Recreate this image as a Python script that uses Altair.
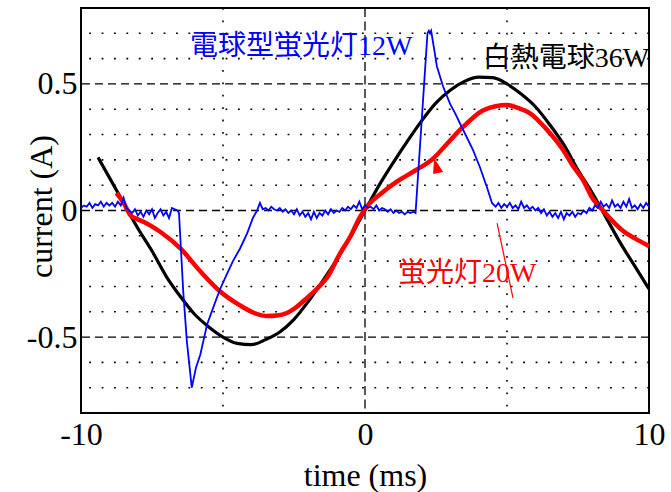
import altair as alt
import pandas as pd

# ---------------- data ----------------
black_t = [-9.4, -9.0, -8.5, -8.0, -7.5, -7.0, -6.5, -6.0, -5.5, -5.0, -4.5, -4.0, -3.5,
           -3.0, -2.5, -2.0, -1.5, -1.0, -0.5, 0.0, 0.5, 1.0, 1.5, 2.0, 2.5, 3.0, 3.5,
           4.0, 4.5, 5.0, 5.5, 6.0, 6.5, 7.0, 7.5, 8.0, 8.5, 9.0, 9.5, 10.0]
black_i = [0.21, 0.13, 0.03, -0.07, -0.16, -0.26, -0.34, -0.41, -0.46, -0.50, -0.525, -0.53, -0.51,
           -0.48, -0.43, -0.36, -0.28, -0.195, -0.10, 0.0, 0.10, 0.19, 0.275, 0.355, 0.425, 0.475, 0.51,
           0.527, 0.525, 0.50, 0.46, 0.41, 0.34, 0.26, 0.16, 0.07, -0.03, -0.13, -0.22, -0.31]

red_t = [-8.75, -8.5, -8.25, -8.0, -7.7, -7.2, -6.5, -5.8, -5.1, -4.4, -3.9, -3.45, -3.1,
         -2.75, -2.4, -2.04, -1.7, -1.34, -0.88, -0.5, -0.2, 0.1, 0.6, 1.13, 1.8, 2.4, 2.9,
         3.45, 4.15, 4.6, 5.0, 5.4, 5.8, 6.4, 6.97, 7.3, 7.68, 8.0, 8.38, 8.7, 9.08, 9.5, 10.0]
red_i = [0.07, 0.03, -0.02, -0.035, -0.05, -0.085, -0.15, -0.24, -0.32, -0.375, -0.405, -0.417, -0.415,
         -0.405, -0.38, -0.345, -0.31, -0.266, -0.17, -0.10, -0.03, 0.02, 0.07, 0.115, 0.16, 0.205, 0.265,
         0.33, 0.395, 0.412, 0.417, 0.405, 0.385, 0.32, 0.24, 0.18, 0.12, 0.05, 0.0, -0.04, -0.08, -0.11, -0.14]

blue_t = [-10.0, -9.9, -9.8, -9.7, -9.6, -9.5, -9.4, -9.3, -9.2, -9.1, -9.0, -8.9, -8.8, -8.7,
          -8.6, -8.5, -8.4, -8.3, -8.2, -8.1, -8.0, -7.9, -7.8, -7.7, -7.6, -7.5, -7.4, -7.3,
          -7.2, -7.1, -7.0, -6.9, -6.8, -6.7, -6.6,
          -6.55, -6.4, -6.27, -6.1, -5.95, -5.8, -5.56, -5.3, -5.1, -4.9, -4.65, -4.4, -4.15, -3.95, -3.8,
          -3.7, -3.6, -3.5, -3.4, -3.3, -3.2, -3.1, -3.0, -2.9, -2.8, -2.7, -2.6, -2.5, -2.4,
          -2.3, -2.2, -2.1, -2.0, -1.9, -1.8, -1.7, -1.6, -1.5, -1.4, -1.3, -1.2, -1.1, -1.0,
          -0.9, -0.8, -0.7, -0.6, -0.5, -0.4, -0.3, -0.2, -0.1, 0.0, 0.1, 0.2, 0.3, 0.4,
          0.5, 0.6, 0.7, 0.8, 0.9, 1.0, 1.1, 1.2, 1.3, 1.4, 1.5, 1.6, 1.7,
          1.78, 2.2, 2.25, 2.29, 2.33, 2.46, 2.53, 2.75, 3.0, 3.17, 3.45, 3.8, 4.05, 4.3, 4.47,
          4.6, 4.7, 4.8, 4.9, 5.0, 5.1, 5.2, 5.3, 5.4, 5.5, 5.6, 5.7, 5.8, 5.9, 6.0, 6.1,
          6.2, 6.3, 6.4, 6.5, 6.6, 6.7, 6.8, 6.9, 7.0, 7.1, 7.2, 7.3, 7.4, 7.5, 7.6, 7.7,
          7.8, 7.9, 8.0, 8.1, 8.2, 8.3, 8.4, 8.5, 8.6, 8.7, 8.8, 8.9, 9.0, 9.1, 9.2, 9.3,
          9.4, 9.5, 9.6, 9.7, 9.8, 9.9, 10.0]
blue_i = [0.01, 0.02, 0.015, 0.03, 0.01, 0.025, 0.02, 0.035, 0.015, 0.03, 0.02, 0.03, 0.015, 0.035,
          0.02, 0.05, 0.01, 0.0, -0.01, 0.005, -0.02, -0.005, -0.025, 0.0, -0.015, 0.005, -0.03, -0.01,
          0.005, -0.02, -0.005, -0.03, 0.01, 0.005, 0.0,
          -0.01, -0.32, -0.52, -0.70, -0.62, -0.57, -0.45, -0.37, -0.31, -0.26, -0.20, -0.15, -0.09, -0.03, 0.0,
          0.03, 0.005, 0.01, 0.0, 0.015, 0.005, 0.0, 0.01, -0.005, 0.005, -0.01, 0.0, -0.015, 0.005,
          -0.02, -0.005, -0.025, -0.01, -0.035, -0.005, -0.03, -0.01, -0.02, 0.0, -0.015, 0.005, -0.01, 0.0,
          -0.005, 0.01, 0.0, 0.015, 0.005, 0.02, 0.01, 0.035, 0.005, 0.02, 0.01, 0.015, 0.005, 0.02,
          0.0, 0.01, 0.005, -0.005, 0.005, -0.01, 0.0, -0.01, -0.005, -0.015, -0.005, -0.01, -0.005,
          -0.01, 0.70, 0.71, 0.70, 0.71, 0.62, 0.57, 0.49, 0.42, 0.385, 0.32, 0.24, 0.17, 0.09, 0.03,
          0.015, 0.03, 0.01, 0.025, 0.015, 0.03, 0.01, 0.02, 0.005, 0.035, 0.01, 0.02, 0.005, 0.015, 0.0, 0.01,
          -0.01, 0.005, -0.02, -0.005, -0.025, -0.01, -0.03, -0.005, -0.035, -0.01, -0.02, -0.005, -0.025, -0.01, -0.015, 0.0,
          -0.01, 0.01, 0.0, 0.02, 0.01, 0.035, 0.015, 0.025, 0.01, 0.04, 0.015, 0.025, 0.01, 0.035, 0.015, 0.045,
          0.01, 0.02, 0.005, 0.025, 0.01, 0.03, 0.015]

x_ticks = [-10, 0, 10]
y_ticks = [-0.5, 0, 0.5]
h_dashed = [-0.5, 0.0, 0.5]
h_dotted = [-0.7, -0.6, -0.4, -0.3, -0.2, -0.1, 0.1, 0.2, 0.3, 0.4, 0.6, 0.7]
v_dashed = [0.0]
v_dotted = [-5.0, 5.0]

label_text = ["電球型蛍光灯12W", "白熱電球36W", "蛍光灯20W"]
label_series = ["cfl12", "inc36", "fl20"]
label_t = [-6.16, 4.15, 1.16]
label_i = [0.645, 0.60, -0.252]

pointer_t = [4.65]
pointer_t2 = [5.21]
pointer_i = [-0.05]
pointer_i2 = [-0.345]
arrow_t = [2.54]
arrow_i = [0.168]

series_domain = ["cfl12", "inc36", "fl20"]
series_colors = ["#0000ff", "#000000", "#ff0000"]

# ---------------- chart ----------------
FONT = "Liberation Serif"
MIXED = "Liberation Serif, Noto Sans CJK JP"
xs = alt.Scale(domain=[-10, 10], nice=False, zero=False)
ys = alt.Scale(domain=[-0.8, 0.8], nice=False, zero=False)

df_black = pd.DataFrame({"t": black_t, "i": black_i})
df_red = pd.DataFrame({"t": red_t, "i": red_i})
df_blue = pd.DataFrame({"t": blue_t, "i": blue_i})

x_axis = alt.Axis(values=x_ticks, title="time (ms)", grid=False, ticks=False, tickSize=0, domain=False,
                  labelFont=FONT, labelFontSize=32, labelColor="black", labelPadding=31,
                  labelBaseline="alphabetic", labelFlush=False, labelOverlap=False,
                  labelExpr="toString(datum.value)",
                  titleFont=FONT, titleFontSize=32, titleFontWeight="normal", titleColor="black",
                  titleY=72, titleBaseline="alphabetic")
y_axis = alt.Axis(values=y_ticks, title="current (A)", grid=False, ticks=False, tickSize=0, domain=False,
                  labelFont=FONT, labelFontSize=32, labelColor="black", labelPadding=4,
                  labelBaseline="middle", labelFlush=False, labelOverlap=False,
                  labelExpr="toString(datum.value)",
                  titleFont=FONT, titleFontSize=32, titleFontWeight="normal", titleColor="black",
                  titleAngle=270, titleX=-30, titleY=198, titleBaseline="alphabetic", titleAlign="center")


def X(field):
    return alt.X(field, scale=xs, axis=x_axis)


def Y(field):
    return alt.Y(field, scale=ys, axis=y_axis)


hd = alt.Chart(pd.DataFrame({"v": h_dashed})).mark_rule(color="black", strokeWidth=1.3, strokeDash=[8, 5]).encode(
    y=Y("v:Q"))
hdot = alt.Chart(pd.DataFrame({"v": h_dotted})).mark_rule(color="black", strokeWidth=1.6, strokeDash=[1.8, 10.6]).encode(
    y=Y("v:Q"))
vd = alt.Chart(pd.DataFrame({"v": v_dashed})).mark_rule(color="black", strokeWidth=1.3, strokeDash=[9, 4.5]).encode(
    x=X("v:Q"))
vdot = alt.Chart(pd.DataFrame({"v": v_dotted})).mark_rule(color="black", strokeWidth=1.6, strokeDash=[1.8, 10.6]).encode(
    x=X("v:Q"))

black = alt.Chart(df_black).mark_line(color="black", strokeWidth=3.2, interpolate="monotone").encode(
    x=X("t:Q"), y=Y("i:Q"))
red = alt.Chart(df_red).mark_line(color="#ff0000", strokeWidth=4.5, interpolate="monotone").encode(
    x=X("t:Q"), y=Y("i:Q"))
blue = alt.Chart(df_blue).mark_line(color="#0000ff", strokeWidth=1.8).encode(
    x=X("t:Q"), y=Y("i:Q"))

pointer = alt.Chart(pd.DataFrame({"t": pointer_t, "t2": pointer_t2, "i": pointer_i, "i2": pointer_i2})).mark_rule(
    color="#ff0000", strokeWidth=1.2).encode(
    x=X("t:Q"), x2="t2:Q", y=Y("i:Q"), y2="i2:Q")
arrow = alt.Chart(pd.DataFrame({"t": arrow_t, "i": arrow_i})).mark_point(
    shape="M-0.3,-1L-0.4,0.6L0.6,0.4Z", filled=True, color="#ff0000", size=400, opacity=1).encode(
    x=X("t:Q"), y=Y("i:Q"))

labels = alt.Chart(pd.DataFrame({"t": label_t, "i": label_i, "txt": label_text, "s": label_series})).mark_text(
    font=MIXED, fontSize=28, align="left", baseline="middle").encode(
    x=X("t:Q"), y=Y("i:Q"), text="txt:N",
    color=alt.Color("s:N", scale=alt.Scale(domain=series_domain, range=series_colors), legend=None))

chart = alt.layer(hdot, vdot, hd, vd, black, red, blue, pointer, arrow, labels).properties(
    width=568, height=405,
    padding={"left": 81, "top": 8, "right": 22, "bottom": 79},
    autosize=alt.AutoSizeParams(type="none"),
    background="white",
).configure_view(stroke="black", strokeWidth=2)

chart.save("out.html", embed_options={"renderer": "svg", "actions": False})
